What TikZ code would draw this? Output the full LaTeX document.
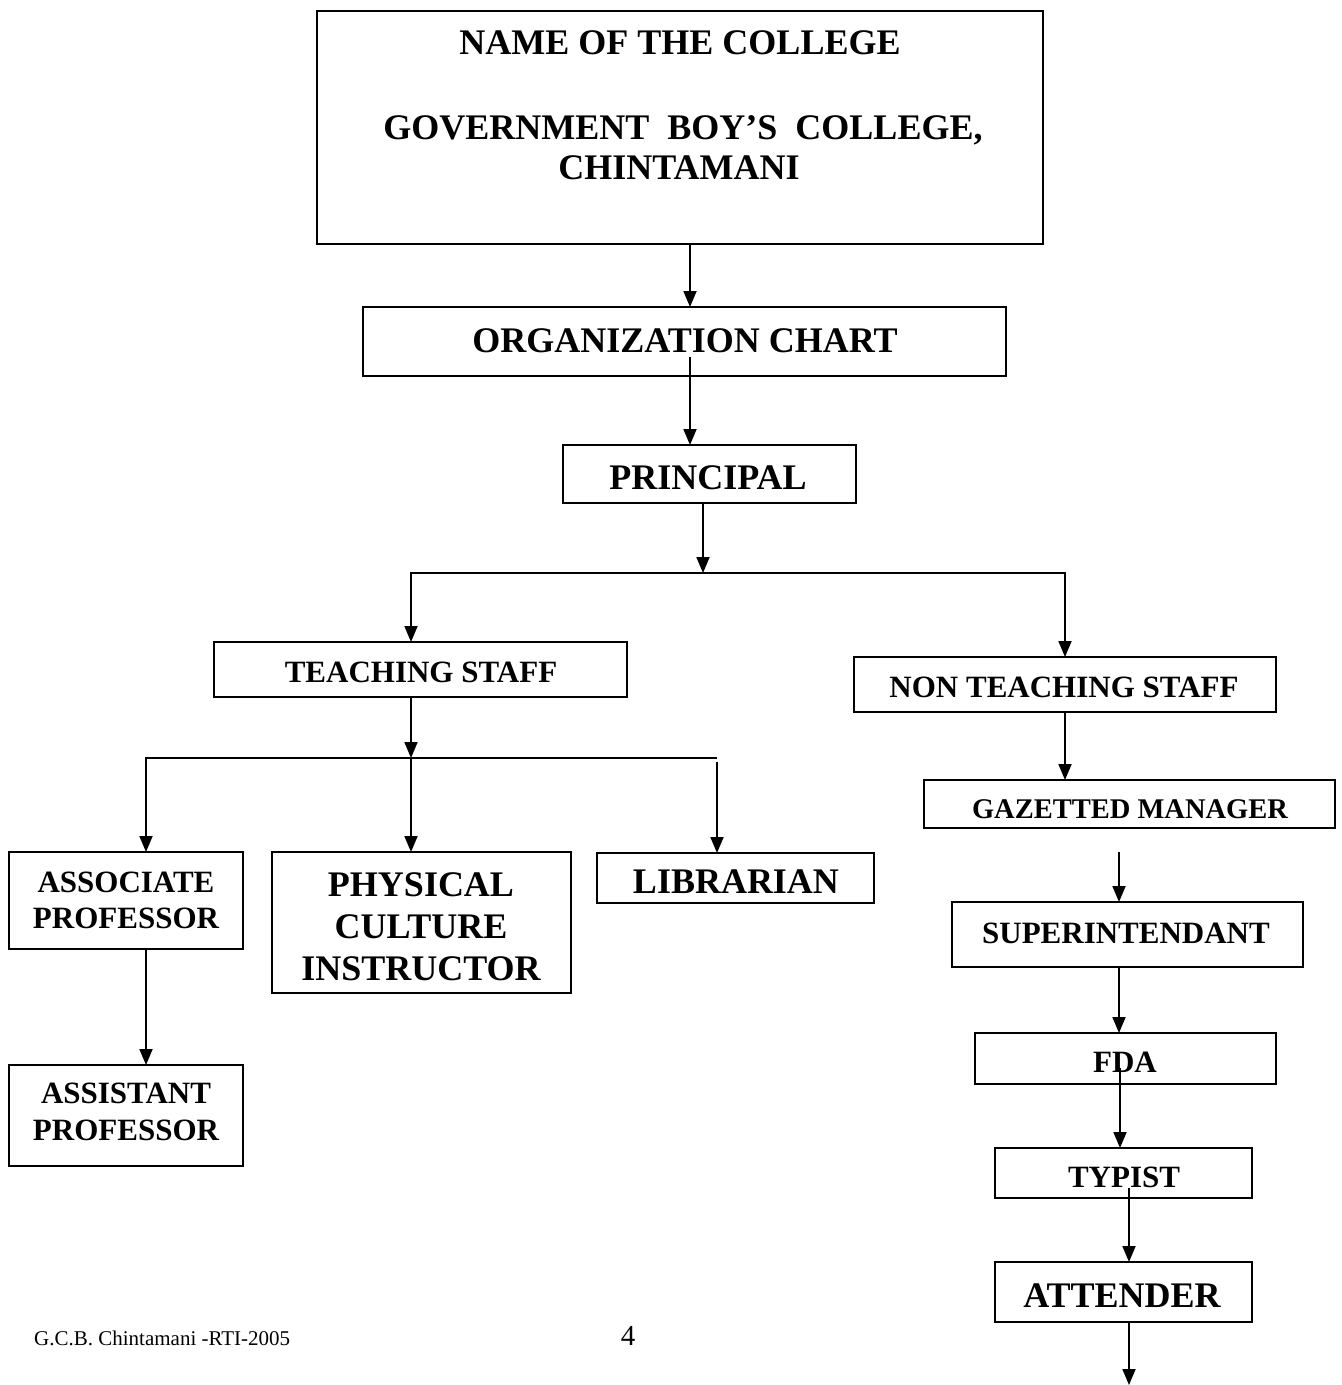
\documentclass[tikz,border=0pt]{standalone}
\usepackage{fontspec}
\setmainfont{Liberation Serif}
\usetikzlibrary{arrows.meta}
\begin{document}
\begin{tikzpicture}[x=1pt,y=-1pt,
  box/.style={draw,line width=1.8pt,inner sep=0pt,outer sep=0pt},
  conn/.style={line width=1.8pt},
  arr/.style={conn,-{Triangle[length=16pt,width=13pt]}},
  lbl/.style={anchor=base,inner sep=0pt,font=\bfseries\fontsize{#1}{#1}\selectfont},
  foot/.style={anchor=base,inner sep=0pt,font=\fontsize{#1}{#1}\selectfont},
]
\useasboundingbox (0,0) rectangle (1342,1385);

% boxes
\node[box,minimum width=726pt,minimum height=233pt] (top) at (680,127.5) {};
\node[box,minimum width=643pt,minimum height=69pt] (org) at (684.5,341.5) {};
\node[box,minimum width=293pt,minimum height=58pt] (principal) at (709.5,474) {};
\node[box,minimum width=413pt,minimum height=55pt] (teach) at (420.5,669.5) {};
\node[box,minimum width=422pt,minimum height=55pt] (nonteach) at (1065,684.5) {};
\node[box,minimum width=411pt,minimum height=48pt] (gaz) at (1129.5,804) {};
\node[box,minimum width=351pt,minimum height=65pt] (super) at (1127.5,934.5) {};
\node[box,minimum width=301pt,minimum height=51pt] (fda) at (1125.5,1058.5) {};
\node[box,minimum width=257pt,minimum height=50pt] (typist) at (1123.5,1173) {};
\node[box,minimum width=257pt,minimum height=60pt] (attender) at (1123.5,1292) {};
\node[box,minimum width=234pt,minimum height=97pt] (assoc) at (126,900.5) {};
\node[box,minimum width=299pt,minimum height=141pt] (phys) at (421.5,922.5) {};
\node[box,minimum width=277pt,minimum height=50pt] (lib) at (735.5,878) {};
\node[box,minimum width=234pt,minimum height=101pt] (assist) at (126,1115.5) {};

% texts
\node[lbl=36] (t1) at (680,54) {NAME OF THE COLLEGE};
\node[lbl=36] (t2) at (683,139) {GOVERNMENT~~BOY’S~~COLLEGE,};
\node[lbl=36] (t3) at (679,179) {CHINTAMANI};
\node[lbl=36] (t4) at (685,352) {ORGANIZATION CHART};
\node[lbl=36] (t5) at (708,489) {PRINCIPAL};
\node[lbl=31] (t6) at (421,682) {TEACHING STAFF};
\node[lbl=31] (t7) at (1064,697) {NON TEACHING STAFF};
\node[lbl=28.5] (t8) at (1130,818) {GAZETTED MANAGER};
\node[lbl=31] (t9) at (1126,943) {SUPERINTENDANT};
\node[lbl=31] (t10) at (1125,1072) {FDA};
\node[lbl=31] (t11) at (1124,1187) {TYPIST};
\node[lbl=36] (t12) at (1122,1307) {ATTENDER};
\node[lbl=31] (t13) at (126,892) {ASSOCIATE};
\node[lbl=31] (t14) at (126,928) {PROFESSOR};
\node[lbl=36] (t15) at (421,896) {PHYSICAL};
\node[lbl=36] (t16) at (421,938) {CULTURE};
\node[lbl=36] (t17) at (421,980) {INSTRUCTOR};
\node[lbl=36] (t18) at (736,893) {LIBRARIAN};
\node[lbl=31] (t19) at (126,1103) {ASSISTANT};
\node[lbl=31] (t20) at (126,1140) {PROFESSOR};
\node[foot=21,anchor=base west] (f1) at (34,1345) {G.C.B. Chintamani -RTI-2005};
\node[foot=29] (f2) at (628,1345) {4};

% helper coordinates
\coordinate (xa) at (690,0);
\coordinate (orgin) at (690,357);
\coordinate (split1) at (703,573);
\coordinate (tl) at (411,573);
\coordinate (tr) at (1065,573);
\coordinate (split2) at (411,758);
\coordinate (ll) at (146,758);
\coordinate (lr) at (717,758);
\coordinate (lr2) at (717,762);
\coordinate (gs) at (1119,852);
\coordinate (fdain) at (1120,1068);
\coordinate (typin) at (1129,1188);
\coordinate (endpt) at (1129,1385);

% connectors
\draw[arr] (top.south -| xa) -- (org.north -| xa);
\draw[arr] (orgin) -- (principal.north -| orgin);
\draw[arr] (principal.south -| split1) -- (split1);
\draw[arr] (split1) -- (tl) -- (teach.north -| tl);
\draw[arr] (split1) -- (tr) -- (nonteach.north -| tr);
\draw[arr] (teach.south -| split2) -- (split2);
\draw[arr] (split2) -- (phys.north -| split2);
\draw[arr] (split2) -- (ll) -- (assoc.north -| ll);
\draw[conn] (split2) -- (lr);
\draw[arr] (lr2) -- (lib.north -| lr2);
\draw[arr] (assoc.south -| ll) -- (assist.north -| ll);
\draw[arr] (nonteach.south -| tr) -- (gaz.north -| tr);
\draw[arr] (gs) -- (super.north -| gs);
\draw[arr] (super.south -| gs) -- (fda.north -| gs);
\draw[arr] (fdain) -- (typist.north -| fdain);
\draw[arr] (typin) -- (attender.north -| typin);
\draw[arr] (attender.south -| typin) -- (endpt);
\end{tikzpicture}
\end{document}
